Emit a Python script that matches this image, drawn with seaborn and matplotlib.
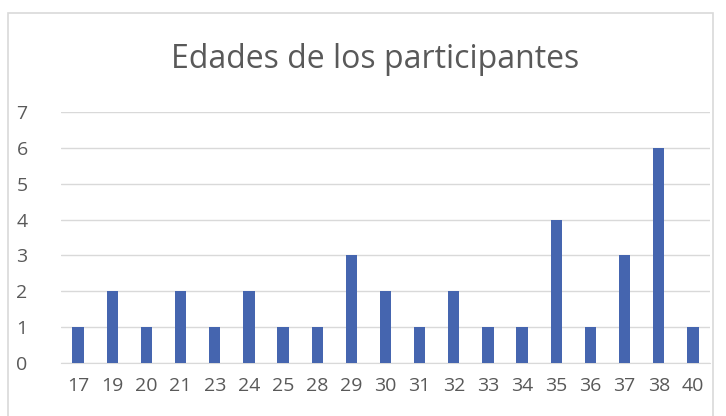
import matplotlib.pyplot as plt
import seaborn as sns
import pandas as pd
from matplotlib.patches import Rectangle

# Chart data
ages = ['17', '19', '20', '21', '23', '24', '25', '28', '29', '30',
        '31', '32', '33', '34', '35', '36', '37', '38', '40']
counts = [1, 2, 1, 2, 1, 2, 1, 1, 3, 2, 1, 2, 1, 1, 4, 1, 3, 6, 1]

df = pd.DataFrame({'edad': ages, 'participantes': counts})

sns.set_style('white')
plt.rcParams['font.family'] = ['Open Sans', 'DejaVu Sans']

fig = plt.figure(figsize=(7.26, 4.16), dpi=100)
ax = fig.add_axes([61 / 726, 1 - 363 / 416, 649 / 726, 251 / 416])

sns.barplot(data=df, x='edad', y='participantes', color='#4565AF',
            width=0.33, saturation=1, linewidth=0, ax=ax, zorder=3)

ax.set_ylim(0, 7)
ax.set_yticks(range(0, 8))
ax.set_xlim(-0.5, len(ages) - 0.5)
ax.yaxis.grid(True, color='#d9d9d9', linewidth=1, zorder=0)
ax.set_axisbelow(True)
for side in ['top', 'right', 'left']:
    ax.spines[side].set_visible(False)
ax.spines['bottom'].set_color('#d9d9d9')
ax.tick_params(axis='both', length=0, labelsize=14, labelcolor='#595959')
ax.tick_params(axis='x', pad=10)
ax.tick_params(axis='y', pad=24)
ax.set_xlabel('')
ax.set_ylabel('')

fig.text(375 / 726, 1 - 59 / 416, 'Edades de los participantes',
         ha='center', va='center', fontsize=23, color='#595959')

# chart border
fig.patches.append(Rectangle((8 / 726, -0.05), 705 / 726, 1 - 13 / 416 + 0.05,
                             transform=fig.transFigure, fill=False,
                             edgecolor='#d9d9d9', linewidth=1.2))

plt.savefig('out.png', dpi=100)
